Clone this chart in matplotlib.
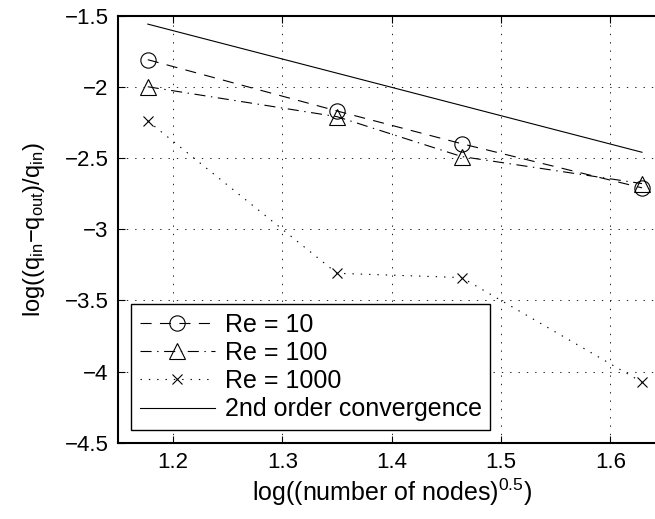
import matplotlib
matplotlib.use("Agg")
import matplotlib.pyplot as plt

plt.rcParams['font.family'] = ['Liberation Sans', 'DejaVu Sans']
plt.rcParams['mathtext.fontset'] = 'custom'
plt.rcParams['mathtext.rm'] = 'Liberation Sans'
plt.rcParams['mathtext.it'] = 'Liberation Sans'
plt.rcParams['lines.scale_dashes'] = False

# log of grid size vs. log of relative flux error
x_nodes = [1.177, 1.350, 1.464, 1.629]
err_re10 = [-1.81, -2.17, -2.40, -2.71]
err_re100 = [-2.00, -2.21, -2.49, -2.68]
err_re1000 = [-2.24, -3.31, -3.34, -4.075]

# reference slope -2 line
x_ref = [1.177, 1.629]
y_ref = [-1.56, -2.46]

xticks = [1.2, 1.3, 1.4, 1.5, 1.6]
xtick_labels = ['1.2', '1.3', '1.4', '1.5', '1.6']
yticks = [-4.5, -4, -3.5, -3, -2.5, -2, -1.5]
ytick_labels = ['\u22124.5', '\u22124', '\u22123.5', '\u22123', '\u22122.5', '\u22122', '\u22121.5']

fs_tick = 16
fs_text = 18

fig = plt.figure(figsize=(6.55, 5.19), dpi=100)
ax = fig.add_axes([0.1806, 0.147, 0.8346, 0.823])

ax.plot(x_nodes, err_re10, color='k', lw=0.8, ls=(0, (8, 6)),
        marker='o', ms=11, mfc='none', mec='k', mew=0.8, label='Re = 10')
ax.plot(x_nodes, err_re100, color='k', lw=0.8, ls=(0, (8, 4, 1, 4)),
        marker='^', ms=12, mfc='none', mec='k', mew=0.8, label='Re = 100')
ax.plot(x_nodes, err_re1000, color='k', lw=0.8, ls=(0, (1, 5)),
        marker='x', ms=7, mec='k', mew=0.8, label='Re = 1000')
ax.plot(x_ref, y_ref, color='k', lw=0.8, ls='-', label='2nd order convergence')

ax.set_xlim(1.15, 1.65)
ax.set_ylim(-4.5, -1.5)
ax.set_xticks(xticks)
ax.set_xticklabels(xtick_labels)
ax.set_yticks(yticks)
ax.set_yticklabels(ytick_labels)
ax.tick_params(direction='in', length=5, width=0.8, labelsize=fs_tick,
               top=True, right=True, pad=7)
ax.grid(True, color='k', lw=0.6, ls=(0, (1, 5)))
for sp in ax.spines.values():
    sp.set_linewidth(1.5)

ax.set_xlabel('log((number of nodes)$^{0.5}$)', fontsize=fs_text, labelpad=2)
ax.set_ylabel('log((q$_{\\mathrm{in}}$\u2212q$_{\\mathrm{out}}$)/q$_{\\mathrm{in}}$)',
              fontsize=17, labelpad=13)

leg = ax.legend(loc='lower left', bbox_to_anchor=(0.0, 0.0), fontsize=fs_text,
                numpoints=1, handlelength=3.0, handletextpad=0.4,
                labelspacing=0.17, borderpad=0.35, borderaxespad=0.5,
                fancybox=False, framealpha=1, edgecolor='k')
leg.get_frame().set_linewidth(1.0)

fig.savefig('out.png', dpi=100)
